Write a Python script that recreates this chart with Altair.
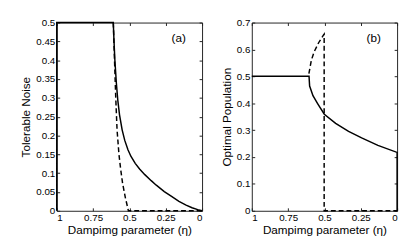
import altair as alt
import pandas as pd

# Panel (a): tolerable noise vs damping parameter
a_solid_eta = [1.0, 1.0, 0.611, 0.606, 0.6, 0.59, 0.58, 0.568, 0.55, 0.532, 0.51, 0.49, 0.46, 0.43, 0.394,
               0.35, 0.315, 0.26, 0.21, 0.159, 0.11, 0.069, 0.03, 0.0]
a_solid_val = [0.0, 0.5, 0.5, 0.45, 0.4, 0.34, 0.294, 0.255, 0.215, 0.187, 0.162, 0.145, 0.126, 0.111, 0.096,
               0.08, 0.068, 0.051, 0.038, 0.025, 0.015, 0.008, 0.003, 0.0]
a_dash_eta = [0.611, 0.6, 0.594, 0.585, 0.572, 0.56, 0.547, 0.528, 0.507, 0.0]
a_dash_val = [0.5, 0.37, 0.3, 0.215, 0.15, 0.11, 0.073, 0.035, 0.0, 0.0]

# Panel (b): optimal population vs damping parameter
b_solid_eta = [1.0, 0.606, 0.602, 0.579, 0.546, 0.501, 0.423, 0.334, 0.244, 0.132, 0.0, 0.0]
b_solid_val = [0.5, 0.5, 0.464, 0.428, 0.398, 0.359, 0.325, 0.295, 0.271, 0.243, 0.217, 0.0]
b_dash_eta = [0.607, 0.59, 0.571, 0.54, 0.505, 0.502, 0.502, 0.0]
b_dash_val = [0.51, 0.56, 0.591, 0.625, 0.655, 0.657, 0.0, 0.0]

x_ticks = [0, 0.25, 0.5, 0.75, 1]
a_y_ticks = [0, 0.05, 0.1, 0.15, 0.2, 0.25, 0.3, 0.35, 0.4, 0.45, 0.5]
b_y_ticks = [0, 0.1, 0.2, 0.3, 0.4, 0.5, 0.6, 0.7]

x_title = "Dampimg parameter (η)"
FONT = "Liberation Sans"
W, H = 149, 193


def df(eta, val):
    return pd.DataFrame({"eta": eta, "val": val, "i": list(range(len(eta)))})


def panel(solid, dash, ytitle, ymax, yticks, tag):
    xs = alt.Scale(domain=[0, 1], reverse=True, nice=False, zero=False)
    ys = alt.Scale(domain=[0, ymax], nice=False, zero=False)
    lbl = "datum.value + ''"
    main = alt.Chart(df(*solid)).mark_line(color="black", strokeWidth=1.5).encode(
        x=alt.X("eta:Q", scale=xs, axis=alt.Axis(values=x_ticks, labelExpr=lbl, title=x_title,
                                                 orient="bottom", domain=False, grid=False,
                                                 tickSize=3, offset=-3, labelPadding=2,
                                                 titlePadding=2)),
        y=alt.Y("val:Q", scale=ys, axis=alt.Axis(values=yticks, labelExpr=lbl, title=ytitle,
                                                 orient="left", domain=False, grid=False,
                                                 tickSize=3, offset=-3, labelPadding=2,
                                                 titlePadding=3)),
        order="i:Q",
    )
    dashed = alt.Chart(df(*dash)).mark_line(color="black", strokeWidth=1.5, strokeDash=[5, 3]).encode(
        x=alt.X("eta:Q", scale=xs, axis=alt.Axis(values=x_ticks, labels=False, title=None,
                                                 orient="top", domain=False, grid=False,
                                                 tickSize=3, offset=-3)),
        y=alt.Y("val:Q", scale=ys, axis=alt.Axis(values=yticks, labels=False, title=None,
                                                 orient="right", domain=False, grid=False,
                                                 tickSize=3, offset=-3)),
        order="i:Q",
    )
    label = alt.Chart(pd.DataFrame({"t": [tag]})).mark_text(fontSize=12, font=FONT, color="black").encode(
        text="t:N", x=alt.value(125), y=alt.value(16)
    )
    return alt.layer(main, dashed, label).resolve_axis(x="independent", y="independent").properties(width=W, height=H)


pa = panel((a_solid_eta, a_solid_val), (a_dash_eta, a_dash_val), "Tolerable Noise", 0.5, a_y_ticks, "(a)")
pb = panel((b_solid_eta, b_solid_val), (b_dash_eta, b_dash_val), "Optimal Population", 0.7, b_y_ticks, "(b)")

chart = alt.hconcat(pa, pb, spacing=14).properties(
    padding={"left": 12, "top": 6, "right": 0, "bottom": 0}
).configure_view(stroke="#222", strokeWidth=1).configure_axis(
    labelFont=FONT, titleFont=FONT, labelFontSize=10, titleFontSize=12,
    labelColor="black", titleColor="black", titleFontWeight="normal", tickColor="#222"
)

chart.save("out.html", embed_options={"renderer": "svg", "actions": False})
